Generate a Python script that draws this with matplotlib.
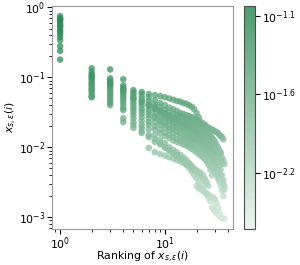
import numpy as np
import matplotlib
matplotlib.use('Agg')
import matplotlib.pyplot as plt
from matplotlib.colors import LinearSegmentedColormap, Normalize
from matplotlib.cm import ScalarMappable

# each list: values of x_{s,eps}(i) sorted, ranks 1..len
s1 = [0.75, 0.135, 0.13, 0.094, 0.066, 0.062, 0.058, 0.056, 0.054, 0.052, 0.050, 0.048, 0.046, 0.045,
      0.043, 0.042, 0.040, 0.038, 0.035, 0.031, 0.027]
s2 = [0.70, 0.12, 0.097, 0.077, 0.062, 0.058, 0.052, 0.047, 0.043, 0.040, 0.037, 0.035, 0.033, 0.031,
      0.030, 0.029, 0.028, 0.027, 0.026, 0.025, 0.024, 0.023, 0.022, 0.021, 0.020, 0.019, 0.0185, 0.018,
      0.0175, 0.017, 0.0165, 0.016, 0.015, 0.0145, 0.014, 0.013]
s3 = [0.66, 0.11, 0.09, 0.072, 0.058, 0.052, 0.046, 0.041, 0.037, 0.034, 0.032, 0.030, 0.029, 0.028,
      0.027, 0.026, 0.025, 0.024, 0.023, 0.022, 0.021, 0.020, 0.019, 0.018, 0.017, 0.016, 0.015, 0.014,
      0.013, 0.012, 0.011, 0.010, 0.0092, 0.0085]
s4 = [0.62, 0.10, 0.085, 0.068, 0.054, 0.048, 0.042, 0.038, 0.034, 0.031, 0.029, 0.027, 0.026, 0.025,
      0.024, 0.023, 0.022, 0.021, 0.020, 0.019, 0.018, 0.0175, 0.017, 0.016, 0.015, 0.014, 0.013, 0.012,
      0.011, 0.010, 0.0095, 0.009, 0.0085, 0.008, 0.0072, 0.0065, 0.0058]
s5 = [0.58, 0.095, 0.08, 0.064, 0.05, 0.044, 0.039, 0.035, 0.031, 0.028, 0.026, 0.024, 0.023, 0.022,
      0.021, 0.020, 0.019, 0.018, 0.017, 0.016, 0.015, 0.014, 0.013, 0.012, 0.011, 0.010, 0.009, 0.008,
      0.007, 0.006]
s6 = [0.55, 0.088, 0.075, 0.060, 0.046, 0.040, 0.035, 0.031, 0.028, 0.026, 0.024, 0.0225, 0.021, 0.020,
      0.019, 0.018, 0.017, 0.016, 0.015, 0.0145, 0.014, 0.0135, 0.013, 0.0125, 0.012, 0.0115, 0.011,
      0.0105, 0.010, 0.0095, 0.009, 0.0082, 0.0074, 0.0066, 0.0058]
s7 = [0.52, 0.082, 0.07, 0.056, 0.042, 0.036, 0.032, 0.028, 0.025, 0.023, 0.021, 0.020, 0.019, 0.018,
      0.017, 0.016, 0.015, 0.014, 0.0135, 0.013, 0.0125, 0.012, 0.0115, 0.011, 0.0105, 0.010, 0.0095,
      0.009, 0.0085, 0.008, 0.0072, 0.0064, 0.0056, 0.0048, 0.004, 0.0034, 0.0028]
s8 = [0.48, 0.078, 0.065, 0.052, 0.038, 0.033, 0.029, 0.026, 0.023, 0.021, 0.019, 0.018, 0.017, 0.016,
      0.015, 0.0145, 0.014, 0.0135, 0.013, 0.0125, 0.012, 0.0115, 0.011, 0.010, 0.0092, 0.0085, 0.0078,
      0.007, 0.0062, 0.0055, 0.0048, 0.0042, 0.0036]
s9 = [0.45, 0.072, 0.06, 0.048, 0.035, 0.030, 0.026, 0.023, 0.021, 0.019, 0.0175, 0.016, 0.015, 0.014,
      0.0135, 0.013, 0.0125, 0.012, 0.0115, 0.011, 0.0105, 0.010, 0.0095, 0.009, 0.0085, 0.008, 0.0075,
      0.007, 0.0065, 0.006, 0.0055, 0.005, 0.0045, 0.004, 0.0035, 0.003, 0.0025]
s10 = [0.42, 0.068, 0.056, 0.044, 0.032, 0.027, 0.023, 0.020, 0.018, 0.016, 0.015, 0.014, 0.013, 0.0125,
       0.012, 0.0115, 0.011, 0.0105, 0.010, 0.0095, 0.009, 0.0085, 0.008, 0.0072, 0.0064, 0.0056, 0.0048,
       0.004]
s11 = [0.38, 0.064, 0.052, 0.040, 0.029, 0.024, 0.021, 0.018, 0.016, 0.0145, 0.0135, 0.0125, 0.012,
       0.0115, 0.011, 0.0105, 0.010, 0.0095, 0.009, 0.0085, 0.008, 0.0076, 0.0072, 0.0068, 0.0064, 0.006,
       0.0056, 0.0052, 0.0048, 0.0044, 0.004, 0.0036, 0.0032, 0.0028, 0.0024, 0.002]
s12 = [0.34, 0.060, 0.048, 0.036, 0.026, 0.021, 0.018, 0.015, 0.013, 0.0115, 0.010, 0.0092, 0.0085,
       0.0078, 0.0072, 0.0066, 0.006, 0.0054, 0.0046, 0.0028, 0.0026, 0.0025, 0.0024, 0.0023, 0.0022,
       0.0021, 0.002, 0.00195, 0.0019, 0.0018, 0.0016, 0.0014, 0.0012]
s13 = [0.28, 0.055, 0.045, 0.034, 0.023, 0.019, 0.0098, 0.0085, 0.008, 0.0076, 0.0072, 0.0069, 0.0066,
       0.0063, 0.006, 0.0057, 0.0054, 0.0051, 0.0049, 0.0047, 0.0045, 0.0043, 0.004, 0.0036, 0.0032,
       0.0028]
s14 = [0.24, 0.053, 0.043, 0.026, 0.021, 0.017, 0.015, 0.013, 0.0115, 0.010, 0.009, 0.0082, 0.0075,
       0.0068, 0.0062, 0.0056, 0.005, 0.0045, 0.004, 0.0036, 0.0032, 0.0029, 0.0026, 0.0023, 0.0021,
       0.0019, 0.0017, 0.0014, 0.0013, 0.0012, 0.00115, 0.0011, 0.00105, 0.001, 0.00098, 0.00096, 0.00095]
s15 = [0.18, 0.052, 0.040, 0.023, 0.019, 0.016, 0.014, 0.012, 0.011, 0.0098, 0.009, 0.0083, 0.0077,
       0.0071, 0.0066, 0.0061, 0.0057, 0.0053, 0.0049, 0.0045, 0.0042, 0.0039, 0.0036, 0.0033, 0.003]
s16 = [0.68, 0.105, 0.082, 0.066, 0.05, 0.045, 0.040, 0.036, 0.033, 0.030, 0.028, 0.026, 0.0245, 0.023,
       0.022, 0.021, 0.020, 0.019, 0.018, 0.017, 0.016, 0.015, 0.014, 0.013, 0.012, 0.011, 0.0105, 0.010,
       0.0095, 0.009, 0.0085]
series = [s1, s2, s3, s4, s5, s6, s7, s8, s9, s10, s11, s12, s13, s14, s15, s16]

cbar_ticks = [-2.16, -1.63, -1.11]
cbar_labels = ['$10^{-2.2}$', '$10^{-1.6}$', '$10^{-1.1}$']

cmap = LinearSegmentedColormap.from_list('gr', ['#eaf4ed', '#2e8b57'])
pt_norm = Normalize(vmin=-3.3, vmax=-0.75)

fig = plt.figure(figsize=(3.0, 2.65), dpi=100)
ax = fig.add_axes([0.173, 0.136, 0.603, 0.841])
cax = fig.add_axes([0.813, 0.136, 0.037, 0.841])

for s in series:
    v = np.array(s)
    r = np.arange(1, len(v) + 1)
    ax.scatter(r, v, c=np.log10(v), cmap=cmap, norm=pt_norm, s=22, alpha=0.75, linewidths=0)

ax.set_xscale('log')
ax.set_yscale('log')
ax.set_xlabel(r'Ranking of $x_{s,\epsilon}(i)$', fontsize=7.8, labelpad=0)
ax.xaxis.set_label_coords(0.5, -0.092)
ax.xaxis.label.set_va('top')
ax.set_ylabel(r'$x_{s,\epsilon}(i)$', fontsize=7.8, labelpad=0)
ax.tick_params(labelsize=7.8, pad=1)
for sp in ax.spines.values():
    sp.set_color('0.6')

sm = ScalarMappable(norm=Normalize(vmin=-2.54, vmax=-1.04), cmap=cmap)
cb = fig.colorbar(sm, cax=cax, alpha=0.85)
cb.set_ticks(cbar_ticks)
cb.set_ticklabels(cbar_labels)
cb.ax.tick_params(labelsize=7.8, pad=1.5)
cb.outline.set_edgecolor('0.3')

fig.savefig('out.png', dpi=100)
